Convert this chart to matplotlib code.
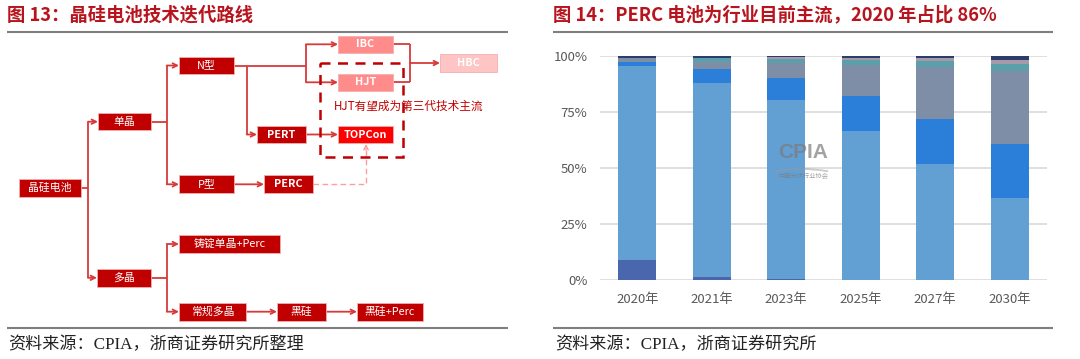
import matplotlib
matplotlib.use("Agg")
import matplotlib.pyplot as plt
import matplotlib.patches as mpatches
import numpy as np

plt.rcParams['font.family'] = ['Noto Sans CJK SC', 'DejaVu Sans']

# ---------------- data (right chart) ----------------
years = ['2020年', '2021年', '2023年', '2025年', '2027年', '2030年']
series_names = ['BSF电池', 'PERC电池', 'TOPCon电池', '异质结电池', 'IBC电池', 'HBC电池', '其他']
bsf = [9.0, 1.5, 0.5, 0.0, 0.0, 0.0]
perc = [86.5, 86.6, 79.7, 66.7, 51.8, 36.6]
topcon = [1.8, 6.1, 9.8, 15.6, 19.9, 24.2]
hjt = [2.0, 3.3, 6.7, 13.7, 23.2, 32.5]
ibc = [0.0, 1.8, 1.8, 2.2, 2.8, 3.0]
hbc = [0.0, 0.0, 0.9, 1.0, 1.2, 1.9]
other = [0.7, 0.7, 0.7, 0.8, 1.2, 1.9]
series_vals = [bsf, perc, topcon, hjt, ibc, hbc, other]
series_colors = ['#4a66ad', '#629fd2', '#2b7fd8', '#7f8ea7', '#5a9fa9', '#a899aa', '#2d3d6b']
yticks = [0, 25, 50, 75, 100]
ytick_labels = ['0%', '25%', '50%', '75%', '100%']

# ---------------- text ----------------
title_left = '图 13：晶硅电池技术迭代路线'
title_right = '图 14：PERC 电池为行业目前主流，2020 年占比 86%'
source_left = '资料来源：CPIA，浙商证券研究所整理'
source_right = '资料来源：CPIA，浙商证券研究所'
note_text = 'HJT有望成为第三代技术主流'

W, H = 1080, 359
fig = plt.figure(figsize=(W / 100, H / 100), dpi=100)
fig.patch.set_facecolor('white')

# ---------------- right stacked bar chart ----------------
ax = fig.add_axes([600 / W, (H - 280) / H, 447 / W, 224 / H])
x = np.arange(len(years))
bottom = np.zeros(len(years))
for name, vals, col in zip(series_names, series_vals, series_colors):
    v = np.array(vals)
    ax.bar(x, v, 0.51, bottom=bottom, color=col, label=name, zorder=3, linewidth=0)
    bottom += v
ax.set_xlim(-0.5, len(years) - 0.5)
ax.set_ylim(0, 100)
ax.set_yticks(yticks)
ax.set_yticklabels(ytick_labels)
ax.set_xticks(x)
ax.set_xticklabels(years)
ax.yaxis.grid(True, color='#d9d9d9', lw=1.2)
ax.set_axisbelow(True)
for s in ax.spines.values():
    s.set_visible(False)
ax.tick_params(axis='both', length=0, labelsize=9.5, labelcolor='#595959')
ax.tick_params(axis='y', pad=9)
ax.tick_params(axis='x', pad=9)

# ---------------- overlay (pixel coordinates) ----------------
ov = fig.add_axes([0, 0, 1, 1], zorder=5)
ov.set_xlim(0, W)
ov.set_ylim(H, 0)
ov.axis('off')

red_title = '#b8141e'
ov.text(7, 15, title_left, fontsize=13.2, fontweight='bold', color=red_title, va='center', ha='left')
ov.text(553, 15, title_right, fontsize=13.2, fontweight='bold', color=red_title, va='center', ha='left')
for x0, x1 in [(7, 508), (553, 1053)]:
    ov.plot([x0, x1], [32, 32], color='#7f7f7f', lw=1.5, solid_capstyle='butt')
    ov.plot([x0, x1], [327.5, 327.5], color='#7f7f7f', lw=1.5, solid_capstyle='butt')
ov.text(8, 345, source_left, fontsize=12.3, color='#222222', va='center', ha='left',
        family=['Liberation Serif', 'Noto Sans CJK SC'])
ov.text(555, 345, source_right, fontsize=12.3, color='#222222', va='center', ha='left',
        family=['Liberation Serif', 'Noto Sans CJK SC'])

# watermark
ov.text(803, 153, 'CPIA', fontsize=15, fontweight='bold', color='#7c7c7c', alpha=0.7,
        ha='center', va='center', family=['Liberation Sans', 'DejaVu Sans'])
ov.text(803, 176, '中国光伏行业协会', fontsize=4.5, color='#7c7c7c', alpha=0.7, ha='center', va='center')
ov.add_patch(mpatches.Arc((801, 184), 100, 30, theta1=205, theta2=335, color='#9a9a9a', alpha=0.5, lw=1.3))

# ---------------- flowchart ----------------
dark = '#c00000'
salmon = '#ff8b8b'
pale = '#ffc4c4'
bright = '#ff0000'
lc = '#d63a3a'

boxes = [
    ('晶硅电池', 19, 179.3, 81, 196.7, dark),
    ('单晶', 98, 113.3, 151, 130, dark),
    ('多晶', 97, 269, 151, 286.7, dark),
    ('N型', 179, 56.7, 234, 74.3, dark),
    ('P型', 179, 175.3, 234, 193.3, dark),
    ('PERT', 257, 125.7, 306, 143.3, dark),
    ('PERC', 264, 175.3, 313, 193.3, dark),
    ('IBC', 338, 35.7, 393, 53, salmon),
    ('HJT', 338, 73.7, 393, 91, salmon),
    ('TOPCon', 338, 125.7, 393, 143.3, bright),
    ('HBC', 440, 54.3, 497, 71.7, pale),
    ('铸锭单晶+Perc', 179, 235.3, 280, 252.7, dark),
    ('常规多晶', 179, 302.7, 246, 320.7, dark),
    ('黑硅', 277, 302.7, 326, 320.7, dark),
    ('黑硅+Perc', 357, 302.7, 423, 320.7, dark),
]
for label, x0, y0, x1, y1, col in boxes:
    ov.add_patch(mpatches.Rectangle((x0, y0), x1 - x0, y1 - y0, facecolor=col,
                                    edgecolor='#f0b0b0', lw=0.6, zorder=3))
    ov.text((x0 + x1) / 2, (y0 + y1) / 2, label, color='white', fontsize=7.8,
            ha='center', va='center', zorder=4, fontweight='bold' if label.isascii() else 'normal')


def seg(pts, **kw):
    xs, ys = zip(*pts)
    ov.plot(xs, ys, color=kw.get('color', lc), lw=kw.get('lw', 1.3),
            ls=kw.get('ls', '-'), zorder=2, solid_capstyle='butt')


def arrow(p0, p1, color=lc, lw=1.3):
    ov.annotate('', xy=p1, xytext=p0, xycoords='data',
                arrowprops=dict(arrowstyle='->', color=color, lw=lw, shrinkA=0, shrinkB=0,
                                mutation_scale=8), zorder=2)


# 晶硅电池 -> 单晶 / 多晶
seg([(81, 188), (88, 188)])
seg([(88, 121.7), (88, 277.8)])
arrow((88, 121.7), (98, 121.7))
arrow((88, 277.8), (97, 277.8))
# 单晶 -> N型 / P型
seg([(151, 121.7), (166.7, 121.7)])
seg([(166.7, 65.5), (166.7, 184.3)])
arrow((166.7, 65.5), (179, 65.5))
arrow((166.7, 184.3), (179, 184.3))
# 多晶 -> 铸锭 / 常规
seg([(151, 277.8), (166.7, 277.8)])
seg([(166.7, 244), (166.7, 311.7)])
arrow((166.7, 244), (179, 244))
arrow((166.7, 311.7), (179, 311.7))
# N型 -> IBC / HJT
seg([(234, 65.5), (306, 65.5)])
seg([(306, 44.3), (306, 82.3)])
arrow((306, 44.3), (338, 44.3))
arrow((306, 82.3), (338, 82.3))
# N型 -> PERT
seg([(246.7, 65.5), (246.7, 134.5)])
arrow((246.7, 134.5), (257, 134.5))
# PERT -> TOPCon
arrow((306, 134.5), (338, 134.5))
# IBC/HJT -> HBC
seg([(393, 44.3), (410, 44.3)])
seg([(393, 82.3), (410, 82.3)])
seg([(410, 44.3), (410, 82.3)])
arrow((410, 63), (440, 63))
# P型 -> PERC
arrow((234, 184.3), (264, 184.3))
# 常规多晶 -> 黑硅 -> 黑硅+Perc
arrow((246, 311.7), (277, 311.7))
arrow((326, 311.7), (357, 311.7))
# PERC -> TOPCon (dashed)
seg([(313, 184.3), (366, 184.3), (366, 150)], color='#ff9d9d', lw=1.0, ls=(0, (4, 2.5)))
arrow((366, 150), (366, 144), color='#ff9d9d', lw=1.0)

# dashed region box
ov.add_patch(mpatches.Rectangle((320, 62.7), 83, 94, fill=False, edgecolor=dark,
                                lw=1.8, ls=(0, (4, 3)), zorder=5))
ov.text(334, 106.3, note_text, color=dark, fontsize=8.4, ha='left', va='center', zorder=6)

fig.savefig('out.png', dpi=100)
